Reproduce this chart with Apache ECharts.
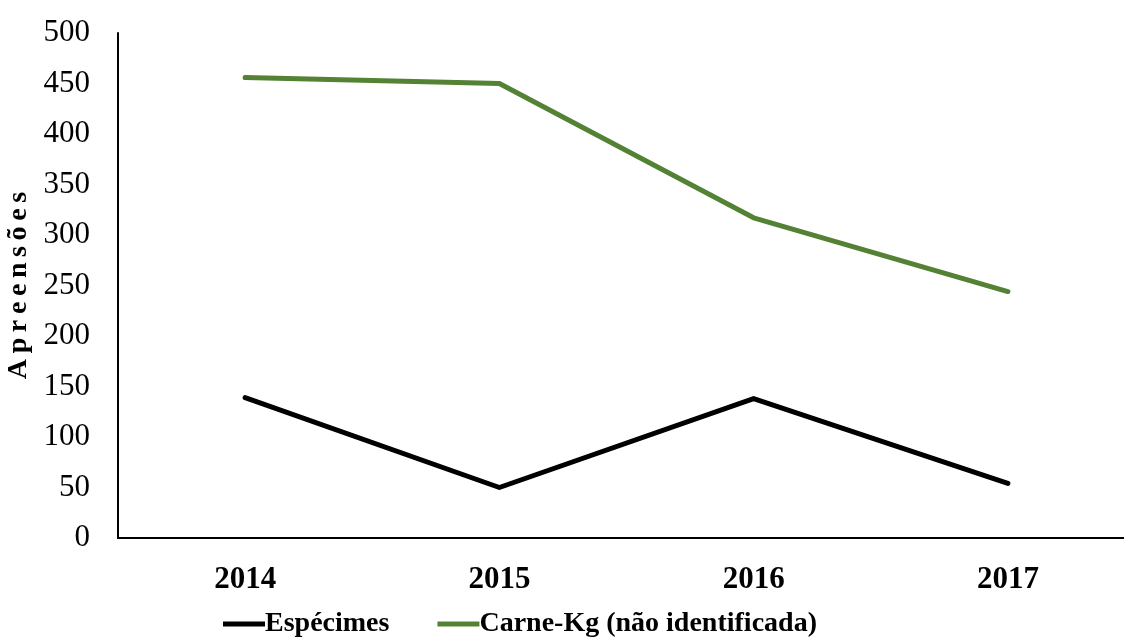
<!DOCTYPE html>
<html>
<head>
<meta charset="utf-8">
<style>
  html, body { margin: 0; padding: 0; background: #fff; }
  #chart { width: 1124px; height: 637px; }
</style>
<script src="https://cdn.jsdelivr.net/npm/echarts@6/dist/echarts.min.js"></script>
</head>
<body>
<div id="chart"></div>
<script>
// data
const years = ['2014', '2015', '2016', '2017'];
const especimes = [139, 50, 138, 54];
const carneKg = [456, 450, 317, 244];

const SERIF = '"Liberation Serif", "Times New Roman", serif';

const chart = echarts.init(document.getElementById('chart'));

chart.setOption({
  animation: false,
  backgroundColor: '#fff',
  grid: { left: 118, width: 1017, top: 33, height: 505, outerBoundsMode: 'none' },
  legend: {
    top: 605,
    left: 218,
    itemWidth: 42,
    itemHeight: 5,
    itemGap: 48,
    icon: 'rect',
    textStyle: { fontFamily: SERIF, fontSize: 28, fontWeight: 'bold', color: '#000', padding: [0, 0, 0, -5] },
    data: ['Espécimes', 'Carne-Kg (não identificada)']
  },
  xAxis: {
    type: 'category',
    data: years,
    boundaryGap: true,
    axisLine: { lineStyle: { color: '#000', width: 2 } },
    axisTick: { show: false },
    axisLabel: { margin: 26, fontFamily: SERIF, fontSize: 31, fontWeight: 'bold', color: '#000' }
  },
  yAxis: {
    type: 'value',
    min: 0,
    max: 500,
    interval: 50,
    name: 'A\u2009p\u2009r\u2009e\u2009e\u2009n\u2009s\u2009õ\u2009e\u2009s',
    nameLocation: 'middle',
    nameGap: 82,
    nameTextStyle: { fontFamily: SERIF, fontSize: 28, fontWeight: 'bold', color: '#000' },
    axisLine: { show: true, lineStyle: { color: '#000', width: 2 } },
    axisTick: { show: false },
    splitLine: { show: false },
    axisLabel: { margin: 28, fontFamily: SERIF, fontSize: 31, color: '#000' }
  },
  series: [
    {
      name: 'Espécimes',
      type: 'line',
      data: especimes,
      symbol: 'none',
      itemStyle: { color: '#000' },
      lineStyle: { color: '#000', width: 5, cap: 'round', join: 'round' }
    },
    {
      name: 'Carne-Kg (não identificada)',
      type: 'line',
      data: carneKg,
      symbol: 'none',
      itemStyle: { color: '#548235' },
      lineStyle: { color: '#548235', width: 5, cap: 'round', join: 'round' }
    }
  ]
});
</script>
</body>
</html>
